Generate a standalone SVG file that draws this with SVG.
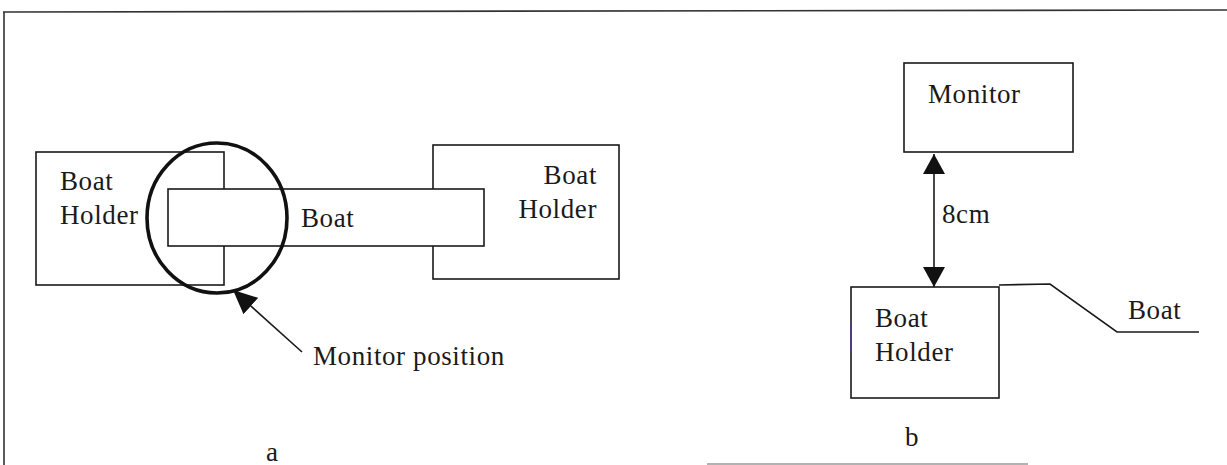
<svg xmlns="http://www.w3.org/2000/svg" width="1227" height="465" viewBox="0 0 1227 465">
  <style>
    .box { fill: none; stroke: #1a1a1a; stroke-width: 1.6; }
    .ln { fill: none; stroke: #1a1a1a; stroke-width: 1.6; }
    .lbl { font-family: "Liberation Serif", "Times New Roman", serif; font-size: 27px; fill: #1a1a1a; letter-spacing: 0.6px; }
  </style>
  <defs>
    <marker id="tri" viewBox="0 0 10 10" refX="10" refY="5" markerWidth="10" markerHeight="10" markerUnits="userSpaceOnUse" orient="auto-start-reverse">
      <path d="M0,0 L10,5 L0,10 Z" fill="#111"/>
    </marker>
    <marker id="dimhead" viewBox="0 0 20 22" refX="20" refY="11" markerWidth="20" markerHeight="22" markerUnits="userSpaceOnUse" orient="auto-start-reverse">
      <path d="M0,0 L20,11 L0,22 Z" fill="#111"/>
    </marker>
    <marker id="ptr" viewBox="0 0 24 22" refX="24" refY="11" markerWidth="24" markerHeight="22" markerUnits="userSpaceOnUse" orient="auto">
      <path d="M0,0 L24,11 L0,22 Z" fill="#111"/>
    </marker>
  </defs>

  <rect width="1227" height="465" fill="#ffffff"/>

  <!-- outer frame -->
  <g id="frame">
    <line x1="3" y1="12" x2="1227" y2="10" stroke="#333" stroke-width="1.6"/>
    <line x1="4" y1="12" x2="4" y2="465" stroke="#333" stroke-width="1.6"/>
    <line x1="707" y1="464" x2="1028" y2="464" stroke="#999" stroke-width="1.4"/>
  </g>

  <!-- panel a: boat between two holders -->
  <g id="holder-left">
    <rect class="box" x="36" y="152" width="188" height="133"/>
    <text class="lbl" x="60" y="190">Boat</text>
    <text class="lbl" x="60" y="224">Holder</text>
  </g>
  <g id="holder-right">
    <rect class="box" x="433" y="145" width="186" height="134"/>
    <text class="lbl" x="597" y="184" text-anchor="end">Boat</text>
    <text class="lbl" x="597" y="218" text-anchor="end">Holder</text>
  </g>
  <g id="boat-a">
    <rect x="168" y="189" width="316" height="57" fill="#ffffff" stroke="#1a1a1a" stroke-width="1.6"/>
    <text class="lbl" x="301" y="227">Boat</text>
  </g>
  <g id="monitor-circle">
    <ellipse cx="217" cy="218" rx="70" ry="75" fill="none" stroke="#111" stroke-width="3.6"/>
  </g>
  <g id="monitor-position-label">
    <text class="lbl" x="313" y="365">Monitor position</text>
  </g>
  <text class="lbl" x="266" y="461">a</text>

  <!-- panel b: side view -->
  <g id="monitor">
    <rect class="box" x="904" y="63" width="169" height="89"/>
    <text class="lbl" x="928" y="103">Monitor</text>
  </g>
  <g id="holder-b">
    <rect class="box" x="851" y="287" width="148" height="111"/>
    <line x1="851" y1="322" x2="851" y2="352" stroke="#5b3a8c" stroke-width="1.4"/>
    <text class="lbl" x="875" y="327">Boat</text>
    <text class="lbl" x="875" y="361">Holder</text>
  </g>
  <g id="boat-b-label">
    <text class="lbl" x="1128" y="319">Boat</text>
  </g>
  <text class="lbl" x="905" y="446">b</text>

  <!-- connectors -->
  <g id="connectors">
    <line class="ln" x1="302" y1="352" x2="233" y2="290" marker-end="url(#ptr)"/>
    <line class="ln" x1="934" y1="154" x2="934" y2="287" marker-start="url(#dimhead)" marker-end="url(#dimhead)"/>
    <text class="lbl" x="942" y="223">8cm</text>
    <polyline class="ln" points="999,285 1050,284 1117,332 1199,332"/>
  </g>
</svg>
